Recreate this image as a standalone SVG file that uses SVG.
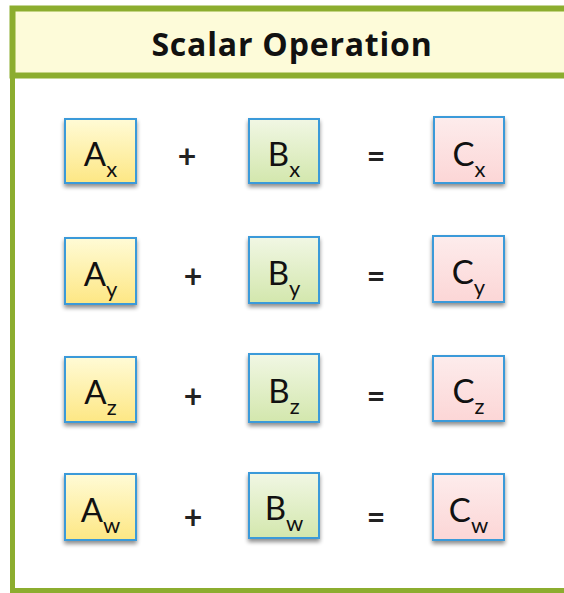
<svg xmlns="http://www.w3.org/2000/svg" width="564" height="593" viewBox="0 0 564 593">
<defs>
<linearGradient id="gA" x1="0" y1="0" x2="0" y2="1"><stop offset="0" stop-color="#fffbd6"/><stop offset="1" stop-color="#fde784"/></linearGradient>
<linearGradient id="gB" x1="0" y1="0" x2="0" y2="1"><stop offset="0" stop-color="#f1f7e4"/><stop offset="1" stop-color="#d3e7ad"/></linearGradient>
<linearGradient id="gC" x1="0" y1="0" x2="0" y2="1"><stop offset="0" stop-color="#fdecec"/><stop offset="1" stop-color="#fcd6d6"/></linearGradient>
<filter id="sh" x="-20%" y="-20%" width="140%" height="150%"><feGaussianBlur in="SourceAlpha" stdDeviation="2"/><feOffset dy="3" result="b"/><feComponentTransfer><feFuncA type="linear" slope="0.45"/></feComponentTransfer><feMerge><feMergeNode/><feMergeNode in="SourceGraphic"/></feMerge></filter>
</defs>
<style>
.box{stroke:#3a9ad9;stroke-width:2;filter:url(#sh)}
.a{fill:url(#gA)}.b{fill:url(#gB)}.c{fill:url(#gC)}
.lbl{font-family:Lato,"Noto Sans",sans-serif;font-size:33px;fill:#111;text-anchor:middle}
.sub{font-size:22px}
.op{font-family:Lato,"Noto Sans",sans-serif;font-size:32px;font-weight:bold;fill:#222;text-anchor:middle}
.title{font-family:"Open Sans","Noto Sans",sans-serif;font-size:32px;font-weight:bold;letter-spacing:0.8px;fill:#111;text-anchor:middle}
</style>
<g id="frame">
<rect x="12.5" y="75.5" width="560" height="515" fill="#ffffff" stroke="#8cad2f" stroke-width="5"/>
<rect x="12.5" y="8.5" width="560" height="67" fill="#fdfbd9" stroke="#8cad2f" stroke-width="6"/>
<text class="title" x="292" y="56">Scalar Operation</text>
</g>
<g id="row-x">
<g id="Ax"><rect class="box a" x="65" y="119" width="71" height="64"/><text class="lbl" x="100.5" y="166">A<tspan class="sub" dy="11">x</tspan></text></g>
<text class="op" x="187" y="168">+</text>
<g id="Bx"><rect class="box b" x="249" y="119" width="70" height="64"/><text class="lbl" x="284" y="166">B<tspan class="sub" dy="11">x</tspan></text></g>
<text class="op" x="376" y="168">=</text>
<g id="Cx"><rect class="box c" x="434" y="117" width="70" height="66"/><text class="lbl" x="469" y="166">C<tspan class="sub" dy="11">x</tspan></text></g>
</g>
<g id="row-y">
<g id="Ay"><rect class="box a" x="65" y="238" width="71" height="66"/><text class="lbl" x="100.5" y="286">A<tspan class="sub" dy="11">y</tspan></text></g>
<text class="op" x="193" y="288">+</text>
<g id="By"><rect class="box b" x="249" y="237" width="70" height="66"/><text class="lbl" x="284" y="285">B<tspan class="sub" dy="11">y</tspan></text></g>
<text class="op" x="376" y="288">=</text>
<g id="Cy"><rect class="box c" x="433" y="236" width="71" height="66"/><text class="lbl" x="468.5" y="284">C<tspan class="sub" dy="11">y</tspan></text></g>
</g>
<g id="row-z">
<g id="Az"><rect class="box a" x="65" y="357" width="71" height="65"/><text class="lbl" x="100.5" y="404">A<tspan class="sub" dy="11">z</tspan></text></g>
<text class="op" x="193" y="408">+</text>
<g id="Bz"><rect class="box b" x="249" y="354" width="70" height="68"/><text class="lbl" x="284" y="403">B<tspan class="sub" dy="11">z</tspan></text></g>
<text class="op" x="376" y="408">=</text>
<g id="Cz"><rect class="box c" x="433" y="356" width="71" height="65"/><text class="lbl" x="468.5" y="403">C<tspan class="sub" dy="11">z</tspan></text></g>
</g>
<g id="row-w">
<g id="Aw"><rect class="box a" x="65" y="474" width="71" height="66"/><text class="lbl" x="100.5" y="522">A<tspan class="sub" dy="11">w</tspan></text></g>
<text class="op" x="193" y="529">+</text>
<g id="Bw"><rect class="box b" x="249" y="473" width="70" height="65"/><text class="lbl" x="284" y="520">B<tspan class="sub" dy="11">w</tspan></text></g>
<text class="op" x="376" y="529">=</text>
<g id="Cw"><rect class="box c" x="433" y="474" width="71" height="66"/><text class="lbl" x="468.5" y="522">C<tspan class="sub" dy="11">w</tspan></text></g>
</g>
</svg>
